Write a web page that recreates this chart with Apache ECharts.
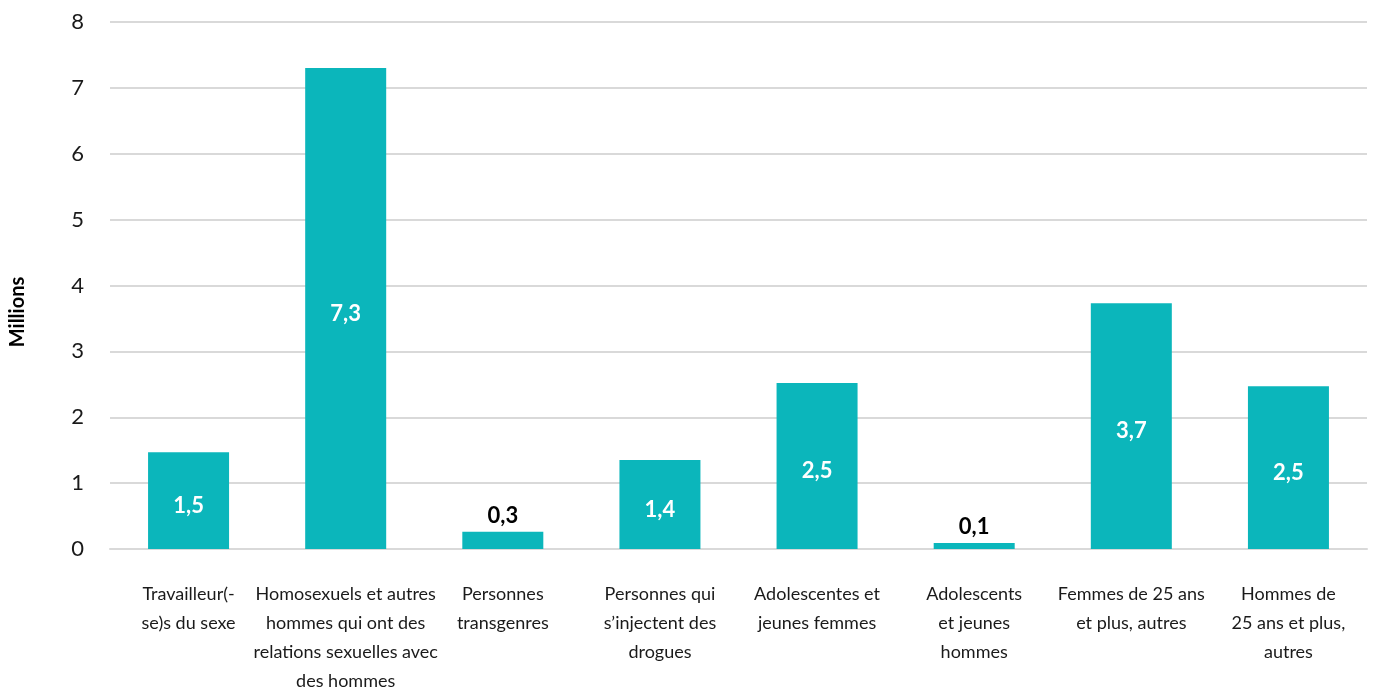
<!DOCTYPE html>
<html><head><meta charset="utf-8">
<script src="https://cdn.jsdelivr.net/npm/echarts@6/dist/echarts.min.js"></script>
<style>html,body{margin:0;padding:0;background:#fff}#c{width:1376px;height:688px}</style>
</head><body><div id="c"></div>
<script>
const categories = [
  "Travailleur(-\nse)s du sexe",
  "Homosexuels et autres\nhommes qui ont des\nrelations sexuelles avec\ndes hommes",
  "Personnes\ntransgenres",
  "Personnes qui\ns\u2019injectent des\ndrogues",
  "Adolescentes et\njeunes femmes",
  "Adolescents\net jeunes\nhommes",
  "Femmes de 25 ans\net plus, autres",
  "Hommes de\n25 ans et plus,\nautres"
];
const values = [1.47, 7.3, 0.26, 1.35, 2.52, 0.09, 3.73, 2.47];
const yTicks = [0, 1, 2, 3, 4, 5, 6, 7, 8];
const yTitle = "Millions";

const FONT = "Lato, 'Noto Sans', sans-serif";
const chart = echarts.init(document.getElementById('c'));
chart.setOption({
  animation: false,
  grid: { left: 110, right: 9, top: 22, bottom: 139, containLabel: false, outerBoundsMode: 'none' },
  graphic: [{
    type: 'text', x: 18, y: 312, rotation: Math.PI / 2,
    style: { text: yTitle, font: "bold 20px " + FONT, fill: '#000', align: 'center', verticalAlign: 'middle' }
  }],
  xAxis: {
    type: 'category', data: categories,
    axisLine: { lineStyle: { color: '#d9d9d9', width: 2 } },
    axisTick: { show: false },
    axisLabel: { interval: 0, color: '#1a1a1a', fontFamily: FONT, fontSize: 18, lineHeight: 29, margin: 31 }
  },
  yAxis: {
    type: 'value', min: yTicks[0], max: yTicks[yTicks.length - 1], interval: 1,
    axisLine: { show: false }, axisTick: { show: false },
    splitLine: { lineStyle: { color: '#d9d9d9', width: 2 } },
    axisLabel: { color: '#1a1a1a', fontFamily: FONT, fontSize: 22, margin: 26 }
  },
  series: [{
    type: 'bar', barWidth: 81,
    data: values.map(v => {
      const small = v < 0.5;
      return {
        value: v,
        label: {
          show: true,
          position: small ? 'top' : 'inside',
          color: small ? '#000' : '#fff',
          fontWeight: 'bold', fontFamily: FONT, fontSize: 22,
          formatter: p => p.value.toFixed(1).replace('.', ','),
          offset: small ? [0, 0] : [0, 5]
        }
      };
    }),
    itemStyle: { color: '#0bb6bb' }
  }]
});
</script></body></html>
